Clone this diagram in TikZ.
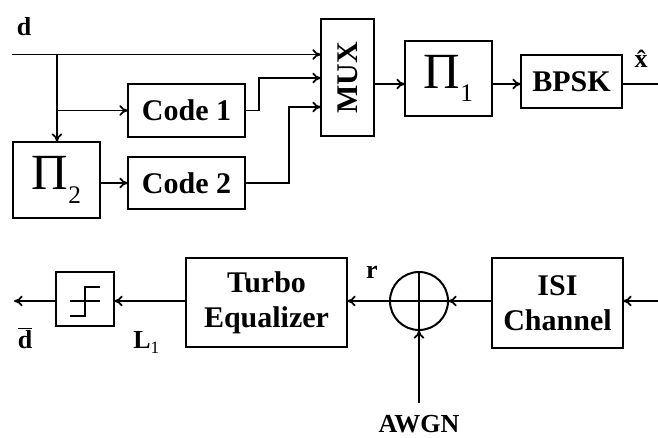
\documentclass[tikz,border=0pt]{standalone}
\usepackage{fontspec}
\setmainfont{Liberation Serif}
\usetikzlibrary{arrows.meta,calc}
\begin{document}
\begin{tikzpicture}[x=0.75pt,y=-0.75pt,
  box/.style={draw,line width=1.5pt,inner sep=0pt,outer sep=0pt,font=\fontsize{22.5}{26.25}\selectfont\bfseries,align=center},
  conn/.style={line width=1.3pt},
  arr/.style={conn,-{To[length=6.5pt,width=8pt]}},
  lbl/.style={inner sep=0pt,font=\fontsize{19.5}{21}\selectfont\bfseries},
  pibox/.style={draw,line width=1.5pt,inner sep=0pt,outer sep=0pt}]
\useasboundingbox (0,0) rectangle (658,437);
% top row
\node[box,minimum width=39.75pt,minimum height=87.75pt] (mux) at (347.5,77.5) {\rotatebox{90}{MUX}};
\node[pibox,minimum width=65.25pt,minimum height=56.25pt] (pi1) at (448.5,78.5)
  {\fontsize{38}{38}\selectfont Π\raisebox{-10pt}{\fontsize{19}{19}\selectfont 1}};
\node[box,minimum width=75.75pt,minimum height=39.75pt] (bpsk) at (571.5,81.5) {BPSK};
\node[box,minimum width=87.75pt,minimum height=39.75pt] (c1) at (186.5,110.5) {Code 1};
\node[box,minimum width=87.75pt,minimum height=39pt] (c2) at (186.5,183) {Code 2};
\node[pibox,minimum width=65.25pt,minimum height=57pt] (pi2) at (56.5,180)
  {\fontsize{38}{38}\selectfont Π\raisebox{-11pt}{\fontsize{19}{19}\selectfont 2}};
\node[lbl] (dlab) at (24,26.5) {d};
\node[lbl,anchor=base] (xhat) at (641,67) {\^x};
% connectors top
\coordinate (din) at (12,54.5);
\coordinate (br) at (57,54.5);
\coordinate (m1) at (321,78);
\coordinate (m2) at (321,107);
\coordinate (ya) at (0,84);
\coordinate (xout) at (658,84);
\draw[arr] (din) -- (mux.west |- din);
\draw[arr] (br) -- (br |- pi2.north);
\draw[arr] (br |- c1.west) -- (c1.west);
\draw[arr] (c1.east) -- ++(14,0) |- (mux.west |- m1);
\draw[arr] (c2.east) -- ++(44,0) |- (mux.west |- m2);
\draw[arr] (pi2.east |- c2.west) -- (c2.west);
\draw[arr] (mux.east |- ya) -- (pi1.west |- ya);
\draw[arr] (pi1.east |- ya) -- (bpsk.west |- ya);
\draw[conn] (bpsk.east |- ya) -- (xout);
% bottom row
\node[pibox,minimum width=43.5pt,minimum height=40.5pt] (dec) at (85,299) {};
\node[box,minimum width=120.75pt,minimum height=66.75pt] (turbo) at (266.5,302.5) {Turbo\\Equalizer};
\node[draw,circle,line width=1.5pt,inner sep=0pt,outer sep=0pt,minimum size=43.5pt] (sum) at (419,301) {};
\node[box,minimum width=98.25pt,minimum height=67.5pt] (isi) at (557.5,303) {ISI\\Channel};
\draw[line width=1.1pt] (sum.north) -- (sum.south) (sum.west) -- (sum.east);
\draw[line width=1.1pt] (70,301) -- (100,301);
\draw[line width=1.1pt] (70,316) -- (85,316) -- (85,287) -- (100,287);
\node[lbl,anchor=base] (rlab) at (372,278) {r};
\node[lbl,anchor=base] (dbar) at (25,348) {$\overline{\mbox{d}}$};
\node[lbl,anchor=base west] (l1) at (133,348) {L\raisebox{-4pt}{\fontsize{13}{13}\selectfont\mdseries 1}};
\node[lbl,anchor=base] (awgn) at (419,432) {AWGN};
\coordinate (inR) at (658,301);
\coordinate (outL) at (14,301);
\coordinate (aw) at (419,403);
\draw[arr] (inR) -- (isi.east |- inR);
\draw[arr] (isi.west |- sum) -- (sum.east);
\draw[arr] (sum.west) -- (turbo.east |- sum);
\draw[arr] (turbo.west |- sum) -- (dec.east |- sum);
\draw[arr] (dec.west |- sum) -- (outL);
\draw[arr] (aw) -- (sum.south);
\end{tikzpicture}
\end{document}
